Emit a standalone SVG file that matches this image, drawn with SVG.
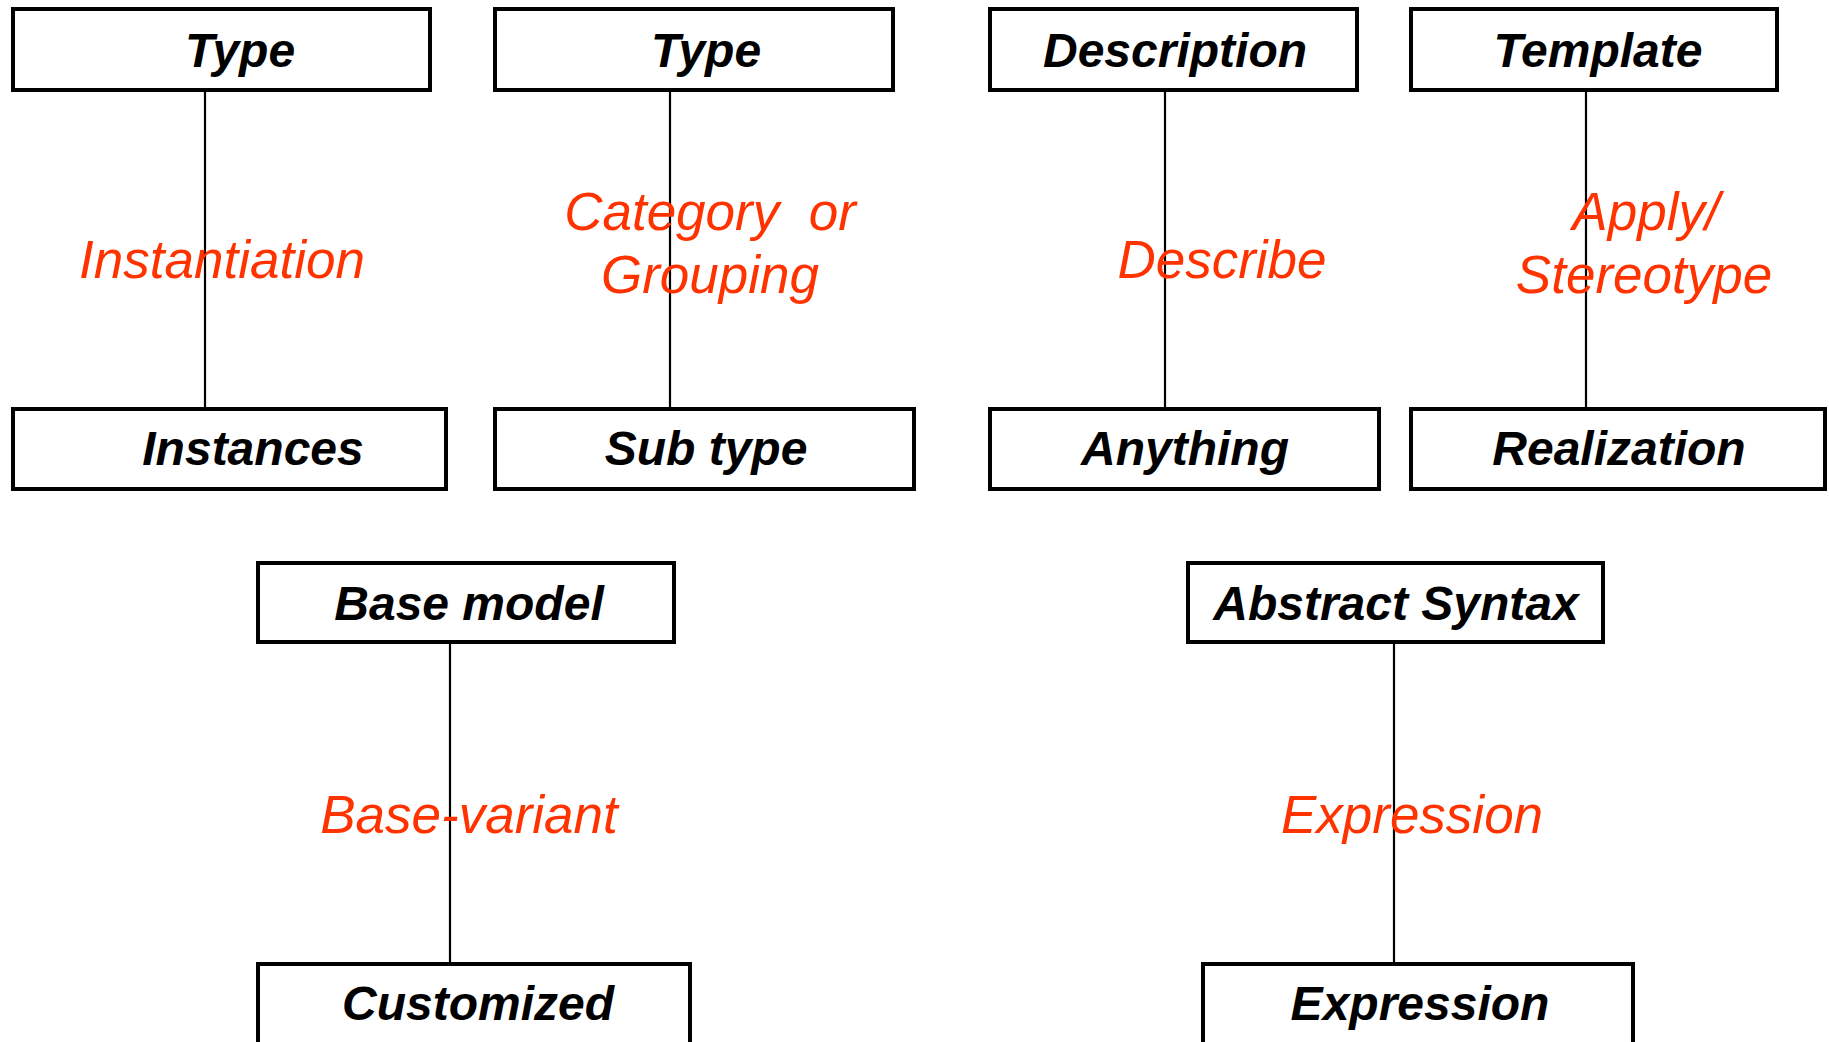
<svg xmlns="http://www.w3.org/2000/svg" width="1829" height="1042" viewBox="0 0 1829 1042">
  <style>
    .box { fill: #ffffff; stroke: #000000; stroke-width: 4; }
    .name { font-family: "Liberation Sans", Arial, sans-serif; font-size: 48px; font-weight: bold; font-style: italic; fill: #000000; text-anchor: middle; }
    .rel { font-family: "Liberation Sans", Arial, sans-serif; font-size: 53px; font-style: italic; fill: #ff3300; text-anchor: middle; white-space: pre; }
    .link { stroke: #000000; stroke-width: 2.2; fill: none; }
  </style>
  <rect width="1829" height="1042" fill="#ffffff"/>

  <!-- connectors -->
  <g id="connectors">
    <line class="link" x1="205" y1="91" x2="205" y2="408"/>
    <line class="link" x1="670" y1="91" x2="670" y2="408"/>
    <line class="link" x1="1165" y1="91" x2="1165" y2="408"/>
    <line class="link" x1="1586" y1="91" x2="1586" y2="408"/>
    <line class="link" x1="450" y1="643" x2="450" y2="963"/>
    <line class="link" x1="1394" y1="643" x2="1394" y2="963"/>
  </g>

  <!-- relation labels -->
  <g id="labels">
    <text class="rel" x="222" y="278">Instantiation</text>
    <text class="rel" x="710" y="230">Category  or</text>
    <text class="rel" x="710" y="293">Grouping</text>
    <text class="rel" x="1222" y="278">Describe</text>
    <text class="rel" x="1646" y="230">Apply/</text>
    <text class="rel" x="1644" y="293">Stereotype</text>
    <text class="rel" x="469" y="833">Base-variant</text>
    <text class="rel" x="1412" y="833">Expression</text>
  </g>

  <!-- top row -->
  <g id="type-a"><rect class="box" x="13" y="9" width="417" height="81"/><text class="name" x="240" y="67">Type</text></g>
  <g id="instances"><rect class="box" x="13" y="409" width="433" height="80"/><text class="name" x="253" y="465">Instances</text></g>

  <g id="type-b"><rect class="box" x="495" y="9" width="398" height="81"/><text class="name" x="706" y="67">Type</text></g>
  <g id="sub-type"><rect class="box" x="495" y="409" width="419" height="80"/><text class="name" x="706" y="465">Sub type</text></g>

  <g id="description"><rect class="box" x="990" y="9" width="367" height="81"/><text class="name" x="1175" y="67">Description</text></g>
  <g id="anything"><rect class="box" x="990" y="409" width="389" height="80"/><text class="name" x="1185" y="465">Anything</text></g>

  <g id="template"><rect class="box" x="1411" y="9" width="366" height="81"/><text class="name" x="1598" y="67">Template</text></g>
  <g id="realization"><rect class="box" x="1411" y="409" width="414" height="80"/><text class="name" x="1619" y="465">Realization</text></g>

  <!-- bottom row -->
  <g id="base-model"><rect class="box" x="258" y="563" width="416" height="79"/><text class="name" x="469" y="620">Base model</text></g>
  <g id="customized"><rect class="box" x="258" y="964" width="432" height="100"/><text class="name" x="478" y="1020">Customized</text></g>

  <g id="abstract-syntax"><rect class="box" x="1188" y="563" width="415" height="79"/><text class="name" x="1396" y="620">Abstract Syntax</text></g>
  <g id="expression"><rect class="box" x="1203" y="964" width="430" height="100"/><text class="name" x="1420" y="1020">Expression</text></g>
</svg>
